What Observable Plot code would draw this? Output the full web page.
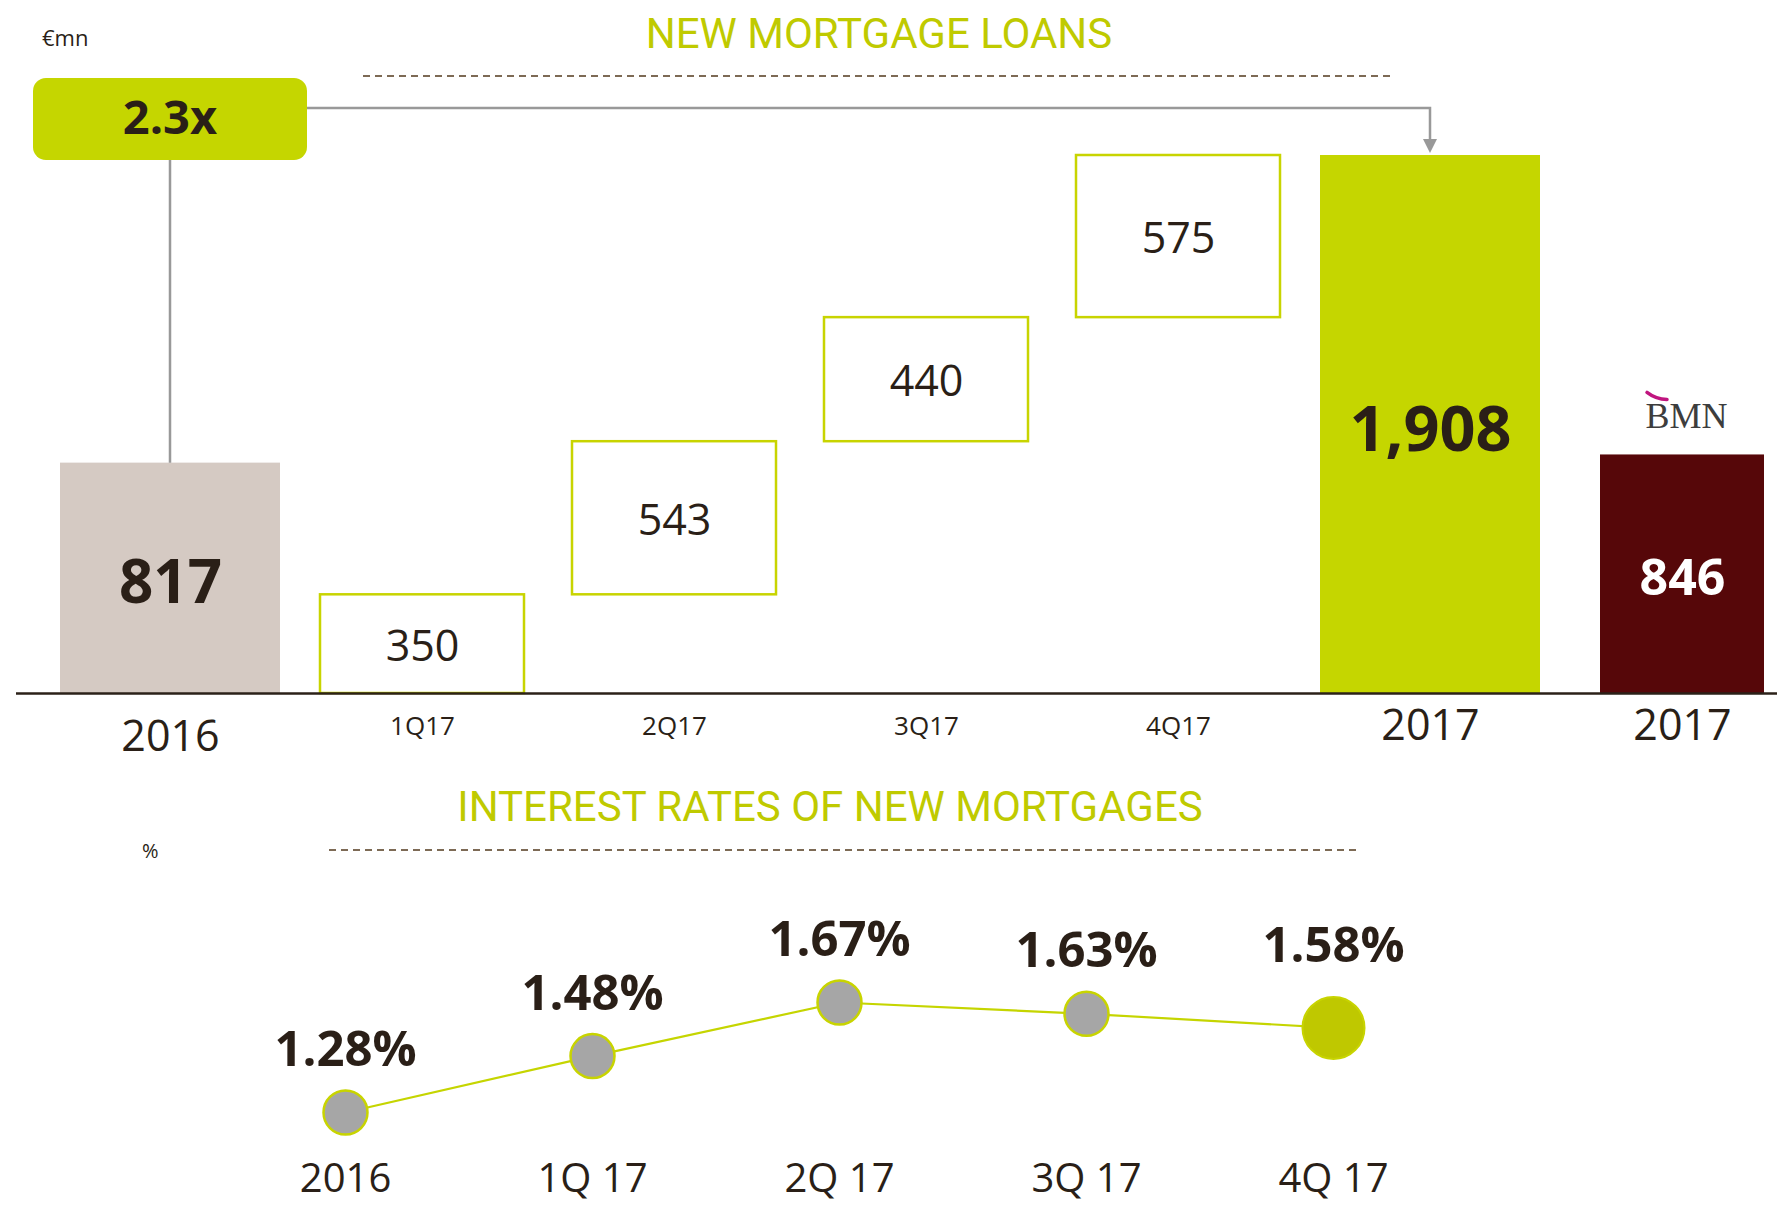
<!DOCTYPE html>
<html>
<head>
<meta charset="utf-8">
<script src="https://cdn.jsdelivr.net/npm/d3@7"></script>
<script src="https://cdn.jsdelivr.net/npm/@observablehq/plot@0.6"></script>
<style>
  body { margin: 0; background: #fff; font-family: "Open Sans", sans-serif; }
  #wrap { position: relative; width: 1777px; height: 1208px; overflow: hidden; background: #fff; }
  .abs { position: absolute; white-space: nowrap; }
  .title { color: #bfca00; font-size: 42px; transform: translate(-50%, -50%); line-height: 1; font-family: Roboto, "Open Sans", sans-serif; }
  .unit { color: #2a1f17; font-size: 22px; transform: translateY(-50%); line-height: 1; }
  #top, #bottom { position: absolute; left: 0; }
  #top { top: 0; }
  #bottom { top: 770px; }
</style>
</head>
<body>
<div id="wrap">
  <div id="top"></div>
  <div id="bottom"></div>
  <div class="abs title" style="left:879px;top:34px;">NEW MORTGAGE LOANS</div>
  <div class="abs unit" style="left:42px;top:37px;">€mn</div>
  <div class="abs title" style="left:830px;top:807px;">INTEREST RATES OF NEW MORTGAGES</div>
  <div class="abs unit" style="left:142px;top:851px;font-size:20px;">%</div>
</div>
<script>
// ---------- data ----------
const categories = ["2016", "1Q17", "2Q17", "3Q17", "4Q17", "2017", "2017 BMN"];
const tickLabels = ["2016", "1Q17", "2Q17", "3Q17", "4Q17", "2017", "2017"];
const loans = [817, 350, 543, 440, 575, 1908, 846];
const kinds = ["prior", "quarter", "quarter", "quarter", "quarter", "total", "bmn"];
const multipleLabel = "2.3x";
const bmnLabel = "BMN";

const rateCategories = ["2016", "1Q 17", "2Q 17", "3Q 17", "4Q 17"];
const rates = [1.28, 1.48, 1.67, 1.63, 1.58];

// ---------- tables ----------
let cum = 0;
const rows = categories.map((c, i) => {
  const kind = kinds[i];
  let y1 = 0, y2 = loans[i];
  if (kind === "quarter") { y1 = cum; y2 = cum + loans[i]; cum = y2; }
  return {cat: c, label: tickLabels[i], value: loans[i], kind, y1, y2};
});
const rateRows = rateCategories.map((c, i) => ({cat: c, rate: rates[i]}));

const FONT = "'Open Sans', sans-serif";
const DARK = "#2a1f17";
const LIME = "#c5d600";
const fmt = d3.format(",");

// ---------- top chart ----------
const topPlot = Plot.plot({
  width: 1777, height: 770,
  marginTop: 155, marginBottom: 77, marginLeft: 16, marginRight: 0,
  x: {type: "band", domain: categories, range: [44, 1808], padding: 0, axis: null},
  y: {domain: [0, 1908], axis: null},
  style: {fontFamily: FONT, background: "transparent", overflow: "visible"},
  marks: [
    Plot.rectY(rows.filter(d => d.kind === "prior"), {x: "cat", y1: "y1", y2: "y2", fill: "#d5cac3", insetLeft: 16, insetRight: 16}),
    Plot.rectY(rows.filter(d => d.kind === "quarter"), {x: "cat", y1: "y1", y2: "y2", fill: "#fff", stroke: "#c8d400", strokeWidth: 2.5, insetLeft: 24, insetRight: 24}),
    Plot.rectY(rows.filter(d => d.kind === "total"), {x: "cat", y1: "y1", y2: "y2", fill: LIME, insetLeft: 16, insetRight: 16}),
    Plot.rectY(rows.filter(d => d.kind === "bmn"), {x: "cat", y1: "y1", y2: "y2", fill: "#560709", insetLeft: 44, insetRight: 44}),
    Plot.ruleY([0], {stroke: "#2b2118", strokeWidth: 2.5}),
    // value labels
    Plot.text(rows.filter(d => d.kind === "quarter"), {x: "cat", y: d => (d.y1 + d.y2) / 2, text: d => fmt(d.value), fontSize: 43, fill: DARK, dy: 3}),
    Plot.text(rows.filter(d => d.kind === "prior"), {x: "cat", y: d => (d.y1 + d.y2) / 2, text: d => fmt(d.value), fontSize: 60, fontWeight: "bold", fill: DARK, dy: 5}),
    Plot.text(rows.filter(d => d.kind === "total"), {x: "cat", y: d => (d.y1 + d.y2) / 2, text: d => fmt(d.value), fontSize: 63, fontWeight: "bold", fill: DARK, dy: 6}),
    Plot.text(rows.filter(d => d.kind === "bmn"), {x: "cat", y: d => (d.y1 + d.y2) / 2, text: d => fmt(d.value), fontSize: 50, fontWeight: "bold", fill: "#fff", dy: 5}),
    // category labels
    Plot.text(rows.filter(d => d.kind === "prior"), {x: "cat", text: "label", frameAnchor: "bottom", lineAnchor: "middle", dy: 44, fontSize: 43, fill: DARK}),
    Plot.text(rows.filter(d => d.kind === "quarter"), {x: "cat", text: "label", frameAnchor: "bottom", lineAnchor: "middle", dy: 33, fontSize: 26, fill: DARK}),
    Plot.text(rows.filter(d => d.kind === "total" || d.kind === "bmn"), {x: "cat", text: "label", frameAnchor: "bottom", lineAnchor: "middle", dy: 33, fontSize: 43, fill: DARK}),
    // BMN logo text
    Plot.text(rows.filter(d => d.kind === "bmn"), {x: "cat", y: "y2", text: () => bmnLabel, dy: -38, dx: 4, fontSize: 36, fontFamily: "'Liberation Serif', serif", fill: "#3d3d3d"})
  ]
});
document.getElementById("top").appendChild(topPlot);

// annotation (multiplier box + connector) positioned from the scales
(function () {
  const sx = topPlot.scale("x"), sy = topPlot.scale("y");
  const bw = sx.bandwidth;
  const x2016 = sx.apply("2016") + bw / 2;
  const x2017 = sx.apply("2017") + bw / 2;
  const xB = sx.apply("2017 BMN") + bw / 2 + 4;
  const svg = d3.select(topPlot);
  const g = svg.append("g");
  const boxTop = 78, boxBottom = 160, halfW = 137, lineY = 108;
  // dashed rule under the title
  g.append("line").attr("x1", 363).attr("x2", 1392).attr("y1", 76).attr("y2", 76)
    .attr("stroke", "#7d6a55").attr("stroke-width", 2).attr("stroke-dasharray", "7,5");
  // vertical from bar to box
  g.append("line").attr("x1", x2016).attr("x2", x2016).attr("y1", boxBottom).attr("y2", sy.apply(817))
    .attr("stroke", "#999").attr("stroke-width", 2.5);
  // horizontal connector + drop
  const tip = sy.apply(1908) - 2;
  g.append("path")
    .attr("d", `M${x2016 + halfW},${lineY}H${x2017}V${tip - 12}`)
    .attr("fill", "none").attr("stroke", "#999").attr("stroke-width", 2.5);
  g.append("path")
    .attr("d", `M${x2017 - 7},${tip - 14}L${x2017 + 7},${tip - 14}L${x2017},${tip}Z`)
    .attr("fill", "#999");
  // box
  g.append("rect").attr("x", x2016 - halfW).attr("y", boxTop).attr("width", 2 * halfW).attr("height", boxBottom - boxTop)
    .attr("rx", 13).attr("fill", LIME);
  g.append("text").attr("x", x2016).attr("y", (boxTop + boxBottom) / 2 + 2).attr("text-anchor", "middle")
    .attr("dominant-baseline", "middle").attr("font-family", FONT).attr("font-weight", "bold")
    .attr("font-size", 47).attr("fill", DARK).text(multipleLabel);
  // BMN logo swoosh
  const ly = sy.apply(846) - 38;
  g.append("path")
    .attr("d", `M${xB - 39},${ly - 24} Q${xB - 30},${ly - 17} ${xB - 19},${ly - 17}`)
    .attr("fill", "none").attr("stroke", "#c0157f").attr("stroke-width", 3.5).attr("stroke-linecap", "round");
})();

// ---------- bottom chart ----------
const bottomPlot = Plot.plot({
  width: 1777, height: 438,
  marginTop: 232, marginBottom: 96, marginLeft: 0, marginRight: 0,
  x: {type: "point", domain: rateCategories, range: [345, 1333], padding: 0, axis: null},
  y: {domain: [1.28, 1.67], axis: null},
  style: {fontFamily: FONT, background: "transparent", overflow: "visible"},
  marks: [
    Plot.line(rateRows, {x: "cat", y: "rate", stroke: "#c5d500", strokeWidth: 2.2}),
    Plot.dot(rateRows.slice(0, 4), {x: "cat", y: "rate", r: 22, fill: "#a6a6a6", stroke: "#c8d400", strokeWidth: 2.5}),
    Plot.dot(rateRows.slice(4), {x: "cat", y: "rate", r: 31, fill: "#bfc800", stroke: "#c8d400", strokeWidth: 2}),
    Plot.text(rateRows.slice(0, 4), {x: "cat", y: "rate", text: d => d.rate.toFixed(2) + "%", dy: -62, fontSize: 49, fontWeight: "bold", fill: DARK}),
    Plot.text(rateRows.slice(4), {x: "cat", y: "rate", text: d => d.rate.toFixed(2) + "%", dy: -82, fontSize: 49, fontWeight: "bold", fill: DARK}),
    Plot.text(rateRows, {x: "cat", text: "cat", frameAnchor: "bottom", lineAnchor: "middle", dy: 67, fontSize: 40, fill: DARK})
  ]
});
document.getElementById("bottom").appendChild(bottomPlot);
d3.select(bottomPlot).append("line").attr("x1", 329).attr("x2", 1360).attr("y1", 80).attr("y2", 80)
  .attr("stroke", "#7d6a55").attr("stroke-width", 2).attr("stroke-dasharray", "7,5");
</script>
</body>
</html>
